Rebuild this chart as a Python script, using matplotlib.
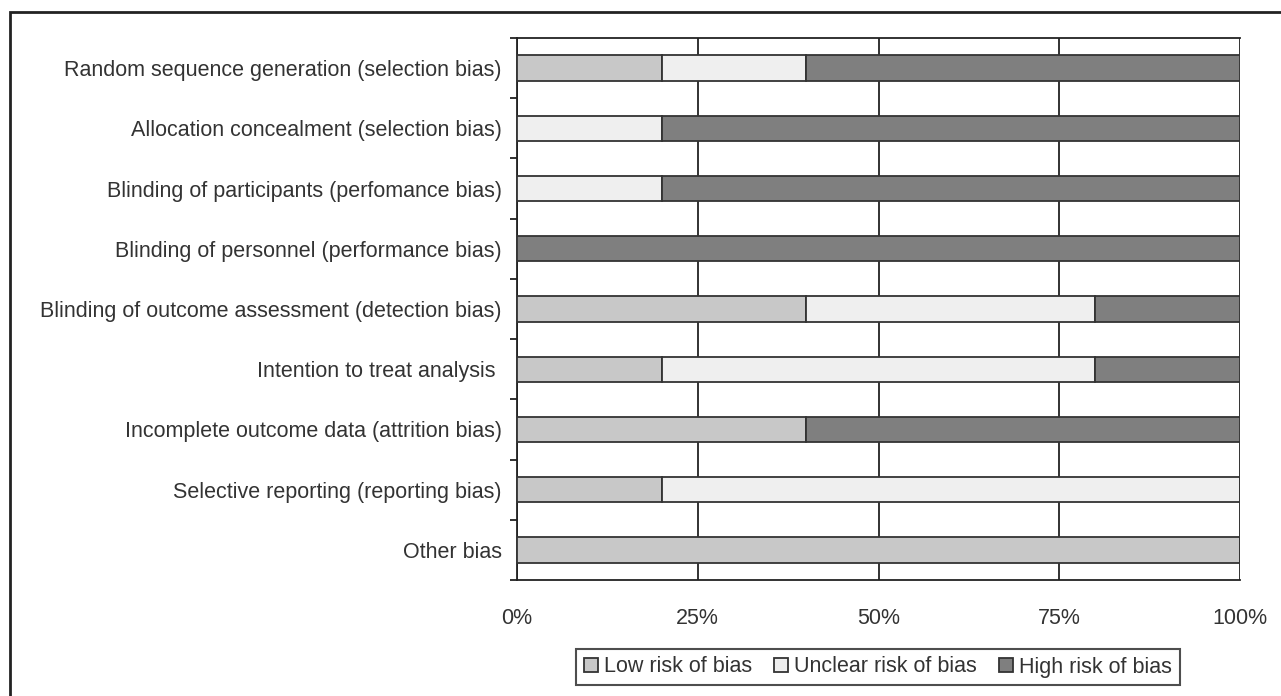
import numpy as np
import matplotlib.pyplot as plt
from matplotlib.patches import Rectangle

# -------------------------------
# Data
# -------------------------------
domains = [
    "Random sequence generation (selection bias)",
    "Allocation concealment (selection bias)",
    "Blinding of participants (perfomance bias)",
    "Blinding of personnel (performance bias)",
    "Blinding of outcome assessment (detection bias)",
    "Intention to treat analysis ",
    "Incomplete outcome data (attrition bias)",
    "Selective reporting (reporting bias)",
    "Other bias",
]
low = [20, 0, 0, 0, 40, 20, 40, 20, 100]
unclear = [20, 20, 20, 0, 40, 60, 0, 80, 0]
high = [60, 80, 80, 100, 20, 20, 60, 0, 0]

series_names = ["Low risk of bias", "Unclear risk of bias", "High risk of bias"]
colors = ["#c8c8c8", "#efefef", "#7f7f7f"]

# -------------------------------
# Plot
# -------------------------------
plt.rcParams['font.family'] = ['Liberation Sans', 'DejaVu Sans']
fig = plt.figure(figsize=(12.81, 6.96), dpi=100)
ax = fig.add_axes([0.4036, 0.1667, 0.5644, 0.7787])

y = np.arange(len(domains))
left = np.zeros(len(domains))
for vals, name, c in zip([low, unclear, high], series_names, colors):
    ax.barh(y, vals, left=left, height=0.42, color=c, edgecolor="#333333",
            linewidth=1.3, label=name, zorder=3)
    left += np.array(vals)

ax.set_xlim(0, 100)
ax.set_ylim(len(domains) - 0.5, -0.5)
ax.set_xticks([0, 25, 50, 75, 100])
ax.set_xticklabels(["0%", "25%", "50%", "75%", "100%"], fontsize=15.5, color="#333333")
ax.tick_params(axis='x', length=0, pad=20)
ax.xaxis.grid(True, color="#222222", linewidth=1.3, zorder=1)

ax.set_yticks(y)
ax.set_yticklabels(domains, fontsize=15.5, color="#333333")
ax.tick_params(axis='y', which='major', length=0, pad=11)
ax.set_yticks(np.arange(-0.5, len(domains), 1), minor=True)
ax.tick_params(axis='y', which='minor', length=5, width=1.3, color="#222222", direction='out')

for s in ['left', 'bottom', 'top']:
    ax.spines[s].set_color("#222222")
    ax.spines[s].set_linewidth(1.3)
ax.spines['right'].set_visible(False)

leg = fig.legend(loc='center', bbox_to_anchor=(878 / 1281, 1 - 667 / 696), ncol=3, fontsize=15.5,
                 frameon=True, fancybox=False, edgecolor="#222222",
                 handlelength=0.65, handleheight=0.65, handletextpad=0.3,
                 columnspacing=1.0, borderpad=0.35, labelcolor="#333333")
leg.get_frame().set_linewidth(1.5)

# outer frame of the figure
fig.add_artist(Rectangle((10 / 1281, -0.1), 1.2, 1 - 12 / 696 + 0.1, transform=fig.transFigure,
                         fill=False, edgecolor="#222222", linewidth=2))

fig.savefig("out.png", dpi=100)
